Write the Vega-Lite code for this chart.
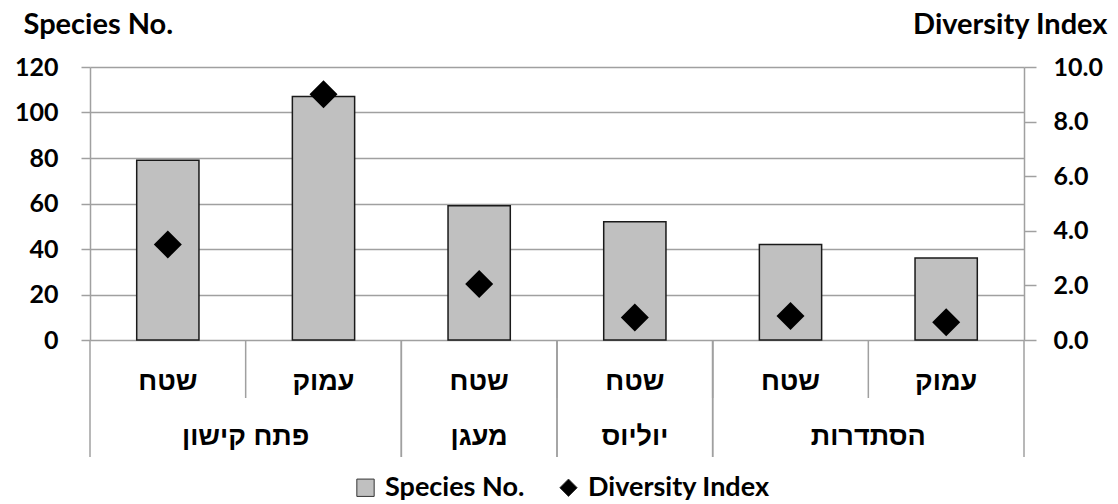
{
  "$schema": "https://vega.github.io/schema/vega-lite/v6.json",
  "width": 934,
  "height": 273,
  "autosize": {"type": "none"},
  "padding": {"left": 90, "top": 67, "right": 94, "bottom": 164},
  "background": "white",
  "config": {"view": {"stroke": null}, "font": "Lato"},
  "datasets": {
    "main": [
      {"key": "פתח קישון – שטח", "site": "פתח קישון", "depth": "שטח", "species": 79, "diversity": 3.5},
      {"key": "פתח קישון – עמוק", "site": "פתח קישון", "depth": "עמוק", "species": 107, "diversity": 9.0},
      {"key": "מעגן – שטח", "site": "מעגן", "depth": "שטח", "species": 59, "diversity": 2.05},
      {"key": "יוליוס – שטח", "site": "יוליוס", "depth": "שטח", "species": 52, "diversity": 0.82},
      {"key": "הסתדרות – שטח", "site": "הסתדרות", "depth": "שטח", "species": 42, "diversity": 0.88},
      {"key": "הסתדרות – עמוק", "site": "הסתדרות", "depth": "עמוק", "species": 36, "diversity": 0.65}
    ],
    "groups": [
      {"site": "פתח קישון", "first": "פתח קישון – שטח", "last": "פתח קישון – עמוק", "span": 2},
      {"site": "מעגן", "first": "מעגן – שטח", "last": "מעגן – שטח", "span": 1},
      {"site": "יוליוס", "first": "יוליוס – שטח", "last": "יוליוס – שטח", "span": 1},
      {"site": "הסתדרות", "first": "הסתדרות – שטח", "last": "הסתדרות – עמוק", "span": 2}
    ]
  },
  "layer": [
    {
      "data": {"name": "groups"},
      "mark": {"type": "rule", "color": "#a0a0a0", "strokeWidth": 1.5},
      "encoding": {
        "x": {"field": "first", "type": "nominal", "bandPosition": 1, "axis": null,
              "scale": {"type": "band", "domain": ["פתח קישון – שטח", "פתח קישון – עמוק", "מעגן – שטח", "יוליוס – שטח", "הסתדרות – שטח", "הסתדרות – עמוק"], "paddingInner": 0, "paddingOuter": 0}},
        "y": {"value": 273},
        "y2": {"value": 331}
      }
    },
    {
      "data": {"name": "groups"},
      "mark": {"type": "rule", "color": "#a0a0a0", "strokeWidth": 1.5},
      "encoding": {
        "x": {"field": "first", "type": "nominal", "bandPosition": 0, "axis": null, "scale": {"type": "band"}},
        "y": {"value": 273},
        "y2": {"value": 390}
      }
    },
    {
      "data": {"name": "groups"},
      "mark": {"type": "rule", "color": "#a0a0a0", "strokeWidth": 1.5},
      "encoding": {
        "x": {"field": "last", "type": "nominal", "bandPosition": 1, "axis": null, "scale": {"type": "band"}},
        "y": {"value": 273},
        "y2": {"value": 390}
      }
    },
    {
      "data": {"name": "main"},
      "mark": {"type": "bar", "stroke": "#1a1a1a", "strokeWidth": 1.5, "width": {"band": 0.4}},
      "encoding": {
        "x": {"field": "key", "type": "nominal", "axis": null, "scale": {"type": "band"}},
        "y": {"field": "species", "type": "quantitative",
              "scale": {"domain": [0, 120], "nice": false},
              "axis": {"values": [0, 20, 40, 60, 80, 100, 120], "grid": true, "gridColor": "#a0a0a0", "gridWidth": 1.5,
                       "domainColor": "#a0a0a0", "domainWidth": 1.5, "tickColor": "#a0a0a0", "tickSize": 9, "tickWidth": 1.5,
                       "labelFont": "Lato", "labelFontSize": 25, "labelFontWeight": "bold", "labelColor": "black", "labelPadding": 23,
                       "title": "Species No.", "titleAngle": 0, "titleX": -67, "titleY": -34, "titleAlign": "left", "titleBaseline": "alphabetic",
                       "titleFont": "Lato", "titleFontSize": 29, "titleFontWeight": "bold", "titleColor": "black"}},
        "fill": {"datum": "Species No.", "type": "nominal",
                 "scale": {"domain": ["Species No.", "Diversity Index"], "range": ["#c0c0c0", "#000000"]},
                 "legend": {"title": null, "orient": "none", "legendX": 262, "legendY": 407, "direction": "horizontal",
                            "labelFont": "Lato", "labelFontSize": 27, "labelFontWeight": "bold", "labelColor": "black", "labelLimit": 400,
                            "symbolSize": 300, "symbolStrokeColor": "#333333", "symbolStrokeWidth": 1, "columnPadding": 30, "labelOffset": 6}}
      }
    },
    {
      "data": {"name": "main"},
      "mark": {"type": "point", "filled": true, "size": 784, "opacity": 1},
      "encoding": {
        "x": {"field": "key", "type": "nominal", "axis": null, "scale": {"type": "band"}},
        "y": {"field": "diversity", "type": "quantitative",
              "scale": {"domain": [0, 10], "nice": false},
              "axis": {"orient": "right", "values": [0, 2, 4, 6, 8, 10], "format": ".1f", "grid": false,
                       "domainColor": "#a0a0a0", "domainWidth": 1.5, "tickColor": "#a0a0a0", "tickSize": 12, "tickWidth": 1.5,
                       "labelFont": "Lato", "labelFontSize": 25, "labelFontWeight": "bold", "labelColor": "black", "labelPadding": 17,
                       "title": "Diversity Index", "titleAngle": 0, "titleX": 83, "titleY": -34, "titleAlign": "right", "titleBaseline": "alphabetic",
                       "titleFont": "Lato", "titleFontSize": 29, "titleFontWeight": "bold", "titleColor": "black"}},
        "fill": {"datum": "Diversity Index", "type": "nominal"},
        "shape": {"datum": "Diversity Index", "type": "nominal",
                  "scale": {"domain": ["Species No.", "Diversity Index"], "range": ["square", "diamond"]}}
      }
    },
    {
      "data": {"name": "main"},
      "mark": {"type": "text", "font": "Liberation Sans", "fontWeight": "bold", "fontSize": 27, "align": "center", "baseline": "alphabetic", "color": "black"},
      "encoding": {
        "x": {"field": "key", "type": "nominal", "axis": null, "scale": {"type": "band"}},
        "y": {"value": 323},
        "text": {"field": "depth"}
      }
    },
    {
      "data": {"name": "groups"},
      "transform": [{"filter": "datum.span == 2"}],
      "mark": {"type": "text", "font": "Liberation Sans", "fontWeight": "bold", "fontSize": 27, "align": "center", "baseline": "alphabetic", "color": "black"},
      "encoding": {
        "x": {"field": "first", "type": "nominal", "bandPosition": 1, "axis": null, "scale": {"type": "band"}},
        "y": {"value": 378},
        "text": {"field": "site"}
      }
    },
    {
      "data": {"name": "groups"},
      "transform": [{"filter": "datum.span == 1"}],
      "mark": {"type": "text", "font": "Liberation Sans", "fontWeight": "bold", "fontSize": 27, "align": "center", "baseline": "alphabetic", "color": "black"},
      "encoding": {
        "x": {"field": "first", "type": "nominal", "bandPosition": 0.5, "axis": null, "scale": {"type": "band"}},
        "y": {"value": 378},
        "text": {"field": "site"}
      }
    }
  ],
  "resolve": {"scale": {"y": "independent"}}
}
